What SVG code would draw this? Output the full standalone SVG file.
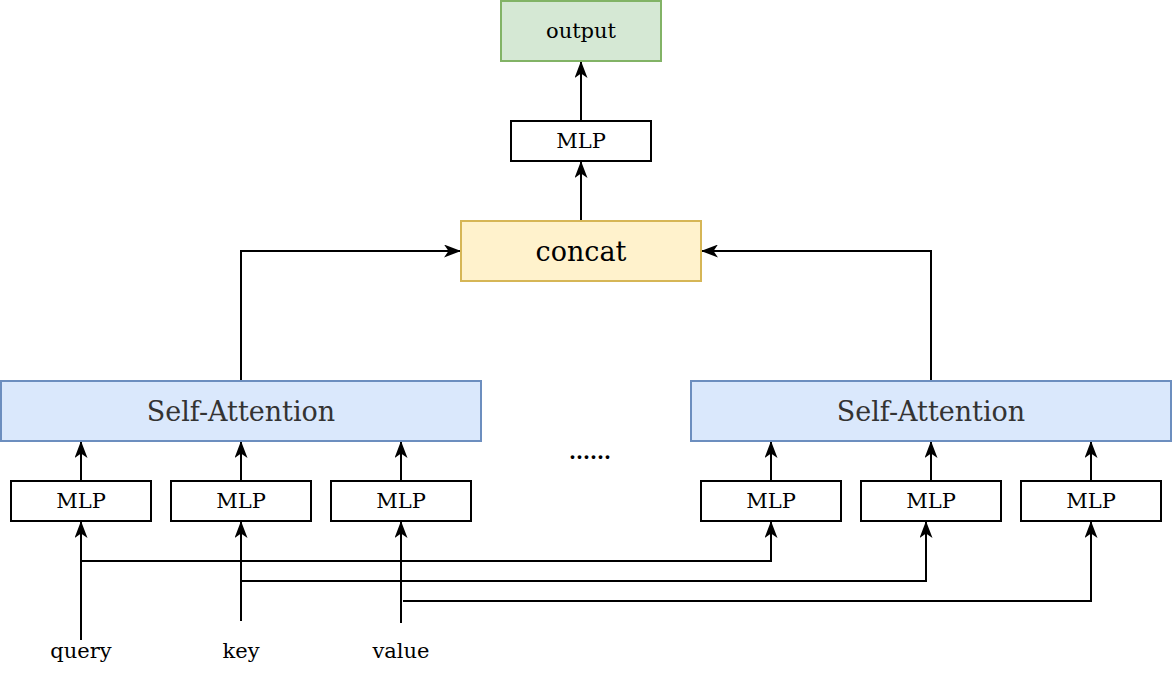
<svg xmlns="http://www.w3.org/2000/svg" width="1172" height="682" viewBox="0 0 1172 682">
<style>
.box{fill:#ffffff;stroke:#000000;stroke-width:2}
.out{fill:#d5e8d4;stroke:#82b366;stroke-width:2}
.cat{fill:#fff2cc;stroke:#d6b656;stroke-width:2}
.sa{fill:#dae8fc;stroke:#6c8ebf;stroke-width:2}
.t{font-family:"DejaVu Serif","Liberation Serif",serif;font-size:21px;fill:#000;text-anchor:middle}
.big{font-size:27px}
.gray{fill:#333333}
.ca{fill:none;stroke:#000;stroke-width:2;marker-end:url(#arr)}
</style>
<defs>
<marker id="arr" markerUnits="userSpaceOnUse" markerWidth="17" markerHeight="13" viewBox="0 0 17 13" refX="16" refY="6.5" orient="auto">
<path d="M0,0 L17,6.5 L0,13 L4.5,6.5 z" fill="#000"/>
</marker>
</defs>
<rect width="1172" height="682" fill="#ffffff"/>
<g id="connectors">
<path class="ca" d="M581,121 V62"/>
<path class="ca" d="M581,221 V162"/>
<path class="ca" d="M241,381 V251 H460"/>
<path class="ca" d="M931,381 V251 H702"/>
<path class="ca" d="M81,481 V442"/>
<path class="ca" d="M241,481 V442"/>
<path class="ca" d="M401,481 V442"/>
<path class="ca" d="M771,481 V442"/>
<path class="ca" d="M931,481 V442"/>
<path class="ca" d="M1091,481 V442"/>
<path class="ca" d="M81,640 V522"/>
<path class="ca" d="M81,561 H771 V522"/>
<path class="ca" d="M241,621 V522"/>
<path class="ca" d="M241,581 H926 V522"/>
<path class="ca" d="M401,623 V522"/>
<path class="ca" d="M403,601 H1091 V522"/>
</g>
<g id="output"><rect class="out" x="501" y="1" width="160" height="60"/><text class="t" x="581" y="38">output</text></g>
<g id="mlp-top"><rect class="box" x="511" y="121" width="140" height="40"/><text class="t" x="581" y="148">MLP</text></g>
<g id="concat"><rect class="cat" x="461" y="221" width="240" height="60"/><text class="t big" x="581" y="261">concat</text></g>
<g id="sa-left"><rect class="sa" x="1" y="381" width="480" height="60"/><text class="t big gray" x="241" y="421">Self-Attention</text></g>
<g id="sa-right"><rect class="sa" x="691" y="381" width="480" height="60"/><text class="t big gray" x="931" y="421">Self-Attention</text></g>
<g id="mlp-q1"><rect class="box" x="11" y="481" width="140" height="40"/><text class="t" x="81" y="508">MLP</text></g>
<g id="mlp-k1"><rect class="box" x="171" y="481" width="140" height="40"/><text class="t" x="241" y="508">MLP</text></g>
<g id="mlp-v1"><rect class="box" x="331" y="481" width="140" height="40"/><text class="t" x="401" y="508">MLP</text></g>
<g id="mlp-q2"><rect class="box" x="701" y="481" width="140" height="40"/><text class="t" x="771" y="508">MLP</text></g>
<g id="mlp-k2"><rect class="box" x="861" y="481" width="140" height="40"/><text class="t" x="931" y="508">MLP</text></g>
<g id="mlp-v2"><rect class="box" x="1021" y="481" width="140" height="40"/><text class="t" x="1091" y="508">MLP</text></g>
<g id="dots"><text class="t" x="590" y="459" style="font-weight:bold;font-size:20px">......</text></g>
<g id="query"><text class="t" x="81" y="658">query</text></g>
<g id="key"><text class="t" x="241" y="658">key</text></g>
<g id="value"><text class="t" x="401" y="658">value</text></g>
</svg>
